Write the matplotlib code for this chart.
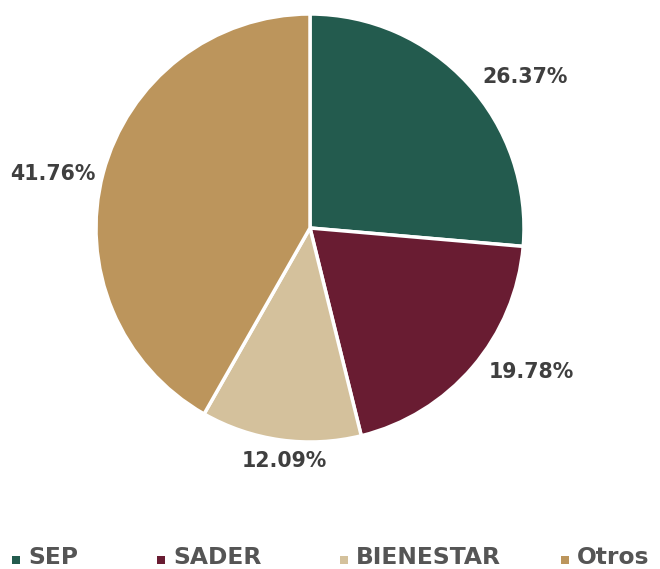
import matplotlib
matplotlib.use("Agg")
import matplotlib.pyplot as plt
from matplotlib.patches import Rectangle

# data
categorias = ["SEP", "SADER", "BIENESTAR", "Otros"]
porcentajes = [26.37, 19.78, 12.09, 41.76]
colores = ["#235B4E", "#691C32", "#D4C19C", "#BC955C"]
etiquetas = ["26.37%", "19.78%", "12.09%", "41.76%"]
# label positions (in pie-radius units)
pos_etiquetas = [(1.005, 0.706), (1.032, -0.673), (-0.12, -1.09), (-1.20, 0.252)]
# legend text left edges (pixels)
leyenda_x = [28, 173, 356, 577]

plt.rcParams["font.family"] = ["DejaVu Sans"]

fig = plt.figure(figsize=(6.6, 5.69), dpi=100)
W, H = 660, 569
cx, cy, r = 310, 228, 214
ax = fig.add_axes([(cx - r) / W, (H - cy - r) / H, 2 * r / W, 2 * r / H])

wedges, _ = ax.pie(porcentajes, colors=colores, startangle=90, counterclock=False,
                   radius=1, wedgeprops=dict(edgecolor="white", linewidth=2.5))
ax.set_xlim(-1, 1)
ax.set_ylim(-1, 1)
ax.set_aspect("equal")
ax.axis("off")

for txt, (x, y) in zip(etiquetas, pos_etiquetas):
    ax.text(x, y, txt, ha="center", va="center", fontsize=14.8,
            fontweight="bold", color="#3f3f3f", clip_on=False)

# legend built by hand so the spacing matches
ly = 558
sq = 8
for nombre, c, x in zip(categorias, colores, leyenda_x):
    fig.add_artist(Rectangle(((x - 16) / W, (H - ly - sq / 2 - 2) / H), sq / W, sq / H,
                             transform=fig.transFigure, facecolor=c, edgecolor="none"))
    fig.text(x / W, (H - ly) / H, nombre, ha="left", va="center", fontsize=16.8,
             fontweight="bold", color="#555555")

fig.savefig("out.png", dpi=100)
